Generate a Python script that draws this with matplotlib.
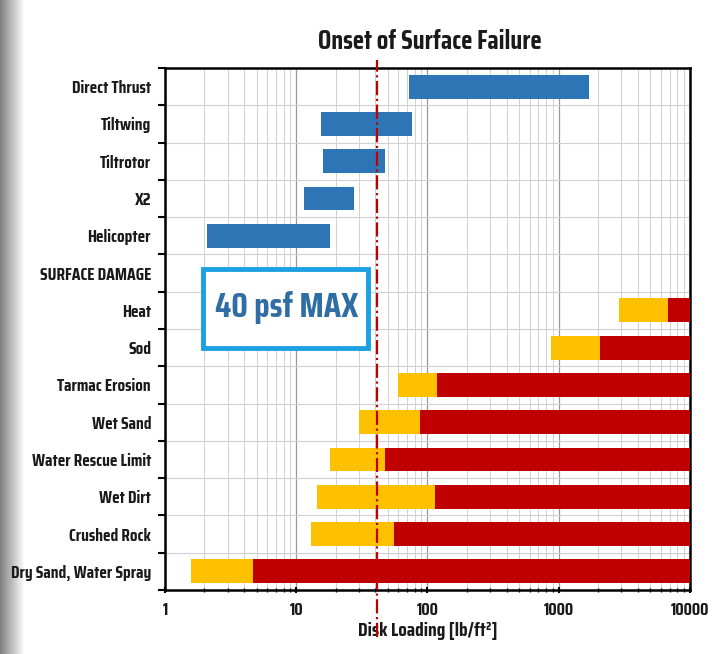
import numpy as np
import matplotlib
matplotlib.use("Agg")
from matplotlib import pyplot as plt
from matplotlib import font_manager
from matplotlib.patches import Rectangle
from matplotlib.ticker import FixedLocator, NullFormatter

# pick a condensed face close to the original's narrow display font
candidates = ["Agency FB", "Saira Extra Condensed", "Saira Condensed", "Antonio",
              "Oswald", "Teko", "Roboto Condensed", "Archivo Narrow"]
available = set(f.name for f in font_manager.fontManager.ttflist)
FONT = next((c for c in candidates if c in available), "DejaVu Sans")
plt.rcParams["font.family"] = [FONT, "DejaVu Sans"]
plt.rcParams["font.weight"] = "bold"

# rows top to bottom
labels = ["Direct Thrust", "Tiltwing", "Tiltrotor", "X2", "Helicopter",
          "SURFACE DAMAGE", "Heat", "Sod", "Tarmac Erosion", "Wet Sand",
          "Water Rescue Limit", "Wet Dirt", "Crushed Rock", "Dry Sand, Water Spray"]

# vehicle disk loading ranges (lb/ft^2)
vehicles = ["Direct Thrust", "Tiltwing", "Tiltrotor", "X2", "Helicopter"]
veh_lo = [72, 15.4, 15.9, 11.4, 2.1]
veh_hi = [1700, 76, 47.5, 27.5, 18]

# surface damage: onset (orange) and failure (red) thresholds
surfaces = ["Heat", "Sod", "Tarmac Erosion", "Wet Sand", "Water Rescue Limit",
            "Wet Dirt", "Crushed Rock", "Dry Sand, Water Spray"]
onset = [2880, 870, 60, 30, 18, 14.4, 13, 1.58]
failure = [6800, 2060, 118, 88, 47.5, 115, 55.6, 4.7]
x_max = 10000
limit = 41

BLUE = "#2e75b6"
ORANGE = "#ffc000"
RED = "#c00000"
TXT = "#1a1a1a"

fig = plt.figure(figsize=(7.12, 6.54), dpi=100)

# grey shadow on left edge
sh = fig.add_axes([0, 0, 0.035, 1])
grad = np.linspace(0.5, 1.0, 50).reshape(1, -1)
sh.imshow(grad, cmap="gray", vmin=0, vmax=1, aspect="auto", extent=[0, 1, 0, 1])
sh.axis("off")

ax = fig.add_axes([0.2317, 0.0979, 0.7374, 0.798])
ax.set_xscale("log")
ax.set_xlim(1, 10000)
ax.set_ylim(len(labels) - 0.5, -0.5)

ypos = {lab: i for i, lab in enumerate(labels)}
h = 0.64

for name, lo, hi in zip(vehicles, veh_lo, veh_hi):
    ax.barh(ypos[name], hi - lo, left=lo, height=h, color=BLUE, zorder=3)

for name, o, f in zip(surfaces, onset, failure):
    ax.barh(ypos[name], f - o, left=o, height=h, color=ORANGE, zorder=3)
    ax.barh(ypos[name], x_max - f, left=f, height=h, color=RED, zorder=3)

# 40 psf limit line
ax.axvline(limit, ymin=-0.09, ymax=1.015, color=RED, ls="-.", lw=1.6,
           zorder=4, clip_on=False)

# callout box
ax.add_patch(Rectangle((1.95, 4.89), 35.5 - 1.95, 2.11, fill=True, fc="white",
                       ec="#1ba1e2", lw=3.5, zorder=5))
ax.text(8.4, 5.93, "40 psf MAX", ha="center", va="center", fontsize=25,
        color="#2f6ea5", fontweight="bold", zorder=6)

# y ticks: labels at centers, marks at row boundaries
ax.set_yticks(range(len(labels)))
ax.set_yticklabels(labels, fontsize=12.5, color=TXT)
ax.yaxis.set_minor_locator(FixedLocator(np.arange(-0.5, len(labels), 1)))
ax.tick_params(axis="y", which="major", length=0, pad=10)
ax.tick_params(axis="y", which="minor", length=5, width=1.5, direction="out")

ax.set_xticks([1, 10, 100, 1000, 10000])
ax.set_xticklabels(["1", "10", "100", "1000", "10000"], fontsize=12.5, color=TXT)
ax.xaxis.set_minor_formatter(NullFormatter())
ax.tick_params(axis="x", which="major", length=5, width=1.5, direction="inout", pad=6)
ax.tick_params(axis="x", which="minor", length=3, width=1.0, direction="inout")

ax.grid(True, axis="x", which="major", color="#9a9a9a", lw=0.9, zorder=0)
ax.grid(True, axis="x", which="minor", color="#d0d0d0", lw=0.7, zorder=0)
ax.grid(True, axis="y", which="minor", color="#d0d0d0", lw=0.8, zorder=0)
ax.set_axisbelow(True)

for side in ["left", "bottom", "top", "right"]:
    ax.spines[side].set_linewidth(1.8)
    ax.spines[side].set_color("black")

ax.set_xlabel("Disk Loading [lb/ft\u00b2]", fontsize=14, labelpad=3, color=TXT,
              fontweight="bold")
fig.text(0.604, 0.936, "Onset of Surface Failure", ha="center", va="center",
         fontsize=19, fontweight="bold", color=TXT)

fig.savefig("out.png", dpi=100)
